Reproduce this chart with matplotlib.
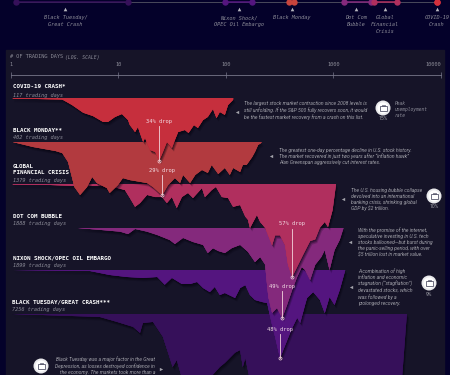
#!/usr/bin/env python3
import numpy as np
import matplotlib
matplotlib.use('Agg')
import matplotlib.pyplot as plt
import matplotlib.patheffects as pe
from matplotlib.patches import Rectangle, Circle

# days since peak / drawdown in %
covid_days = [1.04, 3, 3.7, 4.7, 5.8, 7.2, 8, 9.3, 10.8, 12.3, 12.8, 14.3, 15.2, 17, 17.7, 19.7, 22, 24, 26, 28.3, 31.5, 33.6, 36, 41.6, 45, 50.5, 55, 61.4, 68, 76, 82, 88, 98, 105, 117]
covid_drop = [0.3, 0.8, 3.8, 8, 9.8, 13, 13, 10.3, 8.7, 12, 14.7, 18.5, 15.8, 23.9, 21.7, 28.3, 29.3, 34, 29.3, 23.9, 27.2, 22.8, 18.5, 17.4, 19, 14.7, 16.3, 12, 10.3, 6, 10.9, 7.6, 9.2, 3.8, 1]

monday_days = [1.04, 1.6, 2.6, 3, 3.4, 3.9, 4.4, 5.1, 5.7, 6.3, 7.8, 8.3, 9.9, 11, 12.8, 18.5, 21, 25.5, 29, 33.6, 37.5, 40, 46.5, 52, 60, 68, 74, 85, 98, 109, 117, 136, 144, 156, 176, 187, 200, 214]
monday_drop = [0, 2.7, 4.9, 6, 10.9, 24.5, 28.8, 24.5, 19, 22.3, 25, 27.7, 23.4, 19.6, 20.7, 22.3, 24.5, 29, 23.4, 19.6, 22.3, 17.9, 22.3, 17.9, 15.2, 16.8, 12.5, 17.4, 14.1, 17.9, 14.1, 16.3, 12.5, 12.5, 8.2, 5.4, 1.6, 0.5]

gfc_days = [1.04, 2.3, 4.1, 8.3, 11.5, 12.8, 14.3, 15.9, 18.5, 22, 25.5, 28.3, 31.5, 35, 39, 44.5, 49.5, 60, 64, 74, 81, 92, 105, 117, 136, 152, 161, 168, 195, 209, 233, 270, 288, 320, 357, 380, 415, 462, 525, 610, 680, 752, 835, 895, 987, 1060]
gfc_drop = [0.3, 0.6, 1.2, 1.2, 3.7, 8.6, 14, 11.7, 6.7, 8, 8, 11.7, 8, 14.7, 8, 5.5, 8.6, 2.5, 8, 3.7, 1.8, 8, 8.6, 14, 12.9, 20, 22, 27, 19, 23.3, 27, 37.6, 31.5, 31.5, 37.6, 49.7, 57, 50.8, 43.4, 35, 34, 26.8, 23.3, 26.4, 16, 0.6]

dotcom_days = [4.2, 6.7, 10.4, 12.3, 14.3, 18.5, 23, 30, 33.6, 40, 49.5, 61.5, 68, 76, 85, 98, 114, 136, 161, 187, 209, 233, 238, 249, 270, 300, 335, 372, 415, 462, 510, 547, 610, 680, 775, 835, 925, 1030, 1150, 1240]
dotcom_drop = [0, 1, 2, 3.3, 0.5, 2, 3.8, 6.5, 8.7, 5.4, 7.6, 9.2, 13.6, 11, 12.5, 13.6, 10.9, 9.2, 13, 18.5, 15.8, 20, 26.6, 37.5, 46.2, 43.5, 49, 41.8, 33.7, 26.6, 21.2, 22.8, 28.3, 20, 15.8, 12, 22.8, 12, 6.5, 0.5]

nixon_days = [1.04, 5.4, 8.3, 12, 16.9, 23, 27, 31.5, 39, 46.5, 54, 61.5, 71, 79, 88, 98, 122, 136, 152, 168, 187, 218, 243, 270, 288, 320, 343, 380, 415, 462, 493, 547, 571, 651, 752, 835, 925, 1030, 1150, 1290]
nixon_drop = [0, 0.5, 2.7, 3.8, 4.3, 3.8, 8, 4.3, 7.6, 7.6, 6.5, 9.8, 12, 9.2, 13.6, 12.5, 15.2, 9.8, 8.2, 13.6, 16.3, 17.4, 18, 30, 36.4, 48, 43.5, 37, 31.5, 26, 28.8, 19, 15.2, 12, 16.3, 23.4, 14.7, 19, 10.9, 0.5]

tuesday_days = [1.04, 6.7, 9.7, 13.7, 15.9, 16.9, 21, 26, 29, 32, 35, 39, 52, 71, 88, 98, 122, 136, 144, 152, 168, 493, 4200, 4400, 4750, 4850]
tuesday_drop = [0, 1.6, 4.3, 7, 10.3, 4.9, 4.3, 12.5, 21, 28.8, 25, 34.8, 38.6, 34.8, 28.8, 26.6, 21, 19.6, 28.8, 24, 36, 47, 44, 33, 7, 0.5]

# axis
day_ticks = [1, 10, 100, 1000, 10000]
day_labels = ['1', '10', '100', '1000', '10000']

# timeline
periods = [(1929, 1953.2), (1974.2, 1980), (1988, 1989.1), (2000, 2005.7), (2006.4, 2011.4), (2020, 2020)]
label_years = [1939.7, 1977.1, 1988.6, 2002.5, 2008.8, 2020]
event_labels = ['Black Tuesday/\nGreat Crash', 'Nixon Shock/\nOPEC Oil Embargo', 'Black Monday', 'Dot Com\nBubble', 'Global\nFinancial\nCrisis', 'COVID-19\nCrash']

OUTER = '#04012a'
PANEL = '#161428'
GREY = '#8c8c98'
MONO = 'DejaVu Sans Mono'
SANS = 'Roboto'

# name, sub, colour, top of band, px per %, data, title y, sub y, x
crashes = [
    ('BLACK TUESDAY/GREAT CRASH***', '7256 trading days', '#36105a', 314, 1.84, tuesday_days, tuesday_drop, 302.5, 310, 11.5),
    ('NIXON SHOCK/OPEC OIL EMBARGO', '1899 trading days', '#54157f', 270, 1.84, nixon_days, nixon_drop, 258.5, 265.5, 13),
    ('DOT COM BUBBLE', '1888 trading days', '#84297c', 228, 1.84, dotcom_days, dotcom_drop, 216.5, 223.5, 13),
    ('GLOBAL\nFINANCIAL CRISIS', '1379 trading days', '#b02f5e', 184, 1.63, gfc_days, gfc_drop, 169.5, 180.5, 13),
    ('BLACK MONDAY**', '402 trading days', '#b23a3f', 142, 1.84, monday_days, monday_drop, 131, 138, 13),
    ('COVID-19 CRASH*', '117 trading days', '#c62f3d', 98, 1.84, covid_days, covid_drop, 87, 95.5, 13),
]

fig = plt.figure(figsize=(4.5, 3.75), dpi=100, facecolor=OUTER)
fig.add_artist(Rectangle((6 / 450, 0), 438 / 450, 325 / 375, transform=fig.transFigure, color=PANEL, zorder=-1))

# main chart, log days across
ax = fig.add_axes([0, 0, 1, 1], facecolor='none')
ax.set_xscale('log')
ax.set_xlim(10 ** (-11 / 107.4), 10 ** (439 / 107.4))
ax.set_ylim(375, 0)
ax.yaxis.set_visible(False)
for s in ['left', 'right', 'bottom']:
    ax.spines[s].set_visible(False)
ax.spines['top'].set_position(('data', 75))
ax.spines['top'].set_color('#77778a')
ax.spines['top'].set_linewidth(0.6)
ax.spines['top'].set_bounds(1, 10000)
ax.xaxis.tick_top()
ax.set_xticks(day_ticks)
ax.set_xticklabels(day_labels, fontfamily=MONO, fontsize=3.8, color=GREY)
ax.minorticks_off()
ax.tick_params(axis='x', direction='inout', length=5, width=0.5, color='#77778a', pad=3)
ax.get_xticklabels()[-1].set_ha('right')

shadow = [pe.withSimplePatchShadow(offset=(1.5, -2.6), shadow_rgbFace='#05030f', alpha=0.2),
          pe.withSimplePatchShadow(offset=(1.0, -1.8), shadow_rgbFace='#05030f', alpha=0.3),
          pe.withSimplePatchShadow(offset=(0.5, -1.0), shadow_rgbFace='#05030f', alpha=0.35),
          pe.Normal()]
for i, (name, sub, col, top, k, days, drop, ty, sy, tx) in enumerate(crashes):
    y = top + np.array(drop) * k
    poly = ax.fill_between(days, top, y, color=col, lw=0, zorder=2 + i)
    poly.set_path_effects(shadow)

# drop markers
markers = [(24, 34, 98, 1.84, 121), (25.5, 29, 142, 1.84, 170.5), (415, 57, 184, 1.63, 224), (335, 49, 228, 1.84, 286.5), (320, 48, 270, 1.84, 329)]
for day, pct, top, k, ly in markers:
    yb = top + pct * k
    ax.plot([day, day], [ly + 4.5, yb], color='#f3d5dc', lw=0.6, zorder=20)
    ax.plot([day], [yb], 'o', ms=2.2, mfc='none', mec='#f3d5dc', mew=0.5, zorder=20)
    ax.text(day, ly, f'{pct}% drop', ha='center', va='center', fontfamily=MONO, fontsize=3.9, color='#f3dfe6', zorder=21)

# timeline at the top
tl = fig.add_axes([0, 0, 1, 1], facecolor='none')
tl.set_xlim(1929 - 16 / 4.626, 1929 + 434 / 4.626)
tl.set_ylim(375, 0)
tl.axis('off')
tl.plot([1929, 2020], [2, 2], color='#4a4a5c', lw=0.7)
tcols = ['#36105a', '#54157f', '#c8443c', '#84297c', '#b02f5e', '#d4303c']
for (a, b), c in zip(periods, tcols):
    tl.plot([a, b], [2, 2], color=c, lw=1.1)
    tl.plot([a, b], [2, 2], 'o', color=c, ms=4.6, mew=0)
tl.plot(label_years, [9] * len(label_years), '^', color='#b5b5bd', ms=2.6, mew=0)
for yr, lab in zip(label_years, event_labels):
    tl.text(yr, 15, lab, ha='center', va='top', fontfamily=MONO, fontstyle='oblique', fontsize=3.75, color=GREY, linespacing=1.45)

# annotation layer in pixels
ov = fig.add_axes([0, 0, 1, 1], facecolor='none')
ov.set_xlim(0, 450)
ov.set_ylim(375, 0)
ov.axis('off')

ov.text(10, 57, '# OF TRADING DAYS', fontfamily=MONO, fontsize=3.75, color=GREY, va='center')
ov.text(65, 57, '(LOG. SCALE)', fontfamily=MONO, fontstyle='oblique', fontsize=3.4, color=GREY, va='center')

for name, sub, col, top, k, days, drop, ty, sy, tx in crashes:
    ov.text(tx, ty, name, fontfamily=MONO, fontweight='bold', fontsize=4.25, color='white', va='center', linespacing=1.2, zorder=30)
    ov.text(tx, sy, sub, fontfamily=MONO, fontstyle='oblique', fontsize=3.75, color=GREY, va='center', zorder=30)

notes = [
    (244, 110.5, 'left', 'The largest stock market contraction since 2008 levels is\nstill unfolding. If the S&P 500 fully recovers soon, it would\nbe the fastest market recovery from a crash on this list.'),
    (279, 156.5, 'left', 'The greatest one-day percentage decline in U.S. stock history.\nThe market recovered in just two years after “inflation hawk”\nAlan Greenspan aggressively cut interest rates.'),
    (351, 199.5, 'left', 'The U.S. housing bubble collapse\ndevolved into an international\nbanking crisis, shrinking global\nGDP by $2 trillion.'),
    (358, 242.5, 'left', 'With the promise of the internet,\nspeculative investing in U.S. tech\nstocks ballooned—but burst during\nthe panic-selling period, with over\n$5 trillion lost in market value.'),
    (358, 287, 'left', 'A combination of high\ninflation and economic\nstagnation (“stagflation”)\ndevastated stocks, which\nwas followed by a\nprolonged recovery.'),
    (155, 366, 'right', 'Black Tuesday was a major factor in the Great\nDepression, as losses destroyed confidence in\nthe economy. The markets took more than a'),
]
for x, y, ha, txt in notes:
    ov.text(x, y, txt, ha=ha, va='center', multialignment=ha, fontfamily=SANS, fontstyle='italic', fontsize=3.6, color='#a2a2aa', linespacing=1.25, zorder=30)

ov.plot([237, 271, 342.5, 350, 351], [112, 156, 199, 242, 287], '<', color='#a2a2aa', ms=2.4, mew=0)
ov.plot([161], [369], '>', color='#a2a2aa', ms=2.4, mew=0)

icons = [(383, 108, '15%', '#c62f3d'), (434, 196, '10%', '#b02f5e'), (429, 283, '9%', '#54157f'), (41, 366, '', '#36105a')]
for x, y, lab, c in icons:
    ov.add_patch(Circle((x, y), 7.5, fc='#e9e9ec', ec='none', zorder=30))
    ov.add_patch(Circle((x, y), 5.6, fc='white', ec='none', zorder=31))
    ov.add_patch(Rectangle((x - 3.5, y - 2.2), 7, 5, fc='none', ec='#55556a', lw=0.6, zorder=32))
    ov.add_patch(Rectangle((x - 1.5, y - 3.5), 3, 1.3, fc='none', ec='#55556a', lw=0.5, zorder=32))
    if lab:
        ov.text(x, y + 11, lab, ha='center', va='center', fontfamily=SANS, fontsize=3.6, color='#a2a2aa', zorder=30)

ov.text(395, 109.5, 'Peak\nunemployment\nrate', fontfamily=MONO, fontstyle='oblique', fontsize=3.3, color=GREY, va='center', linespacing=1.2, zorder=30)

fig.savefig('out.png', dpi=100, facecolor=OUTER)
